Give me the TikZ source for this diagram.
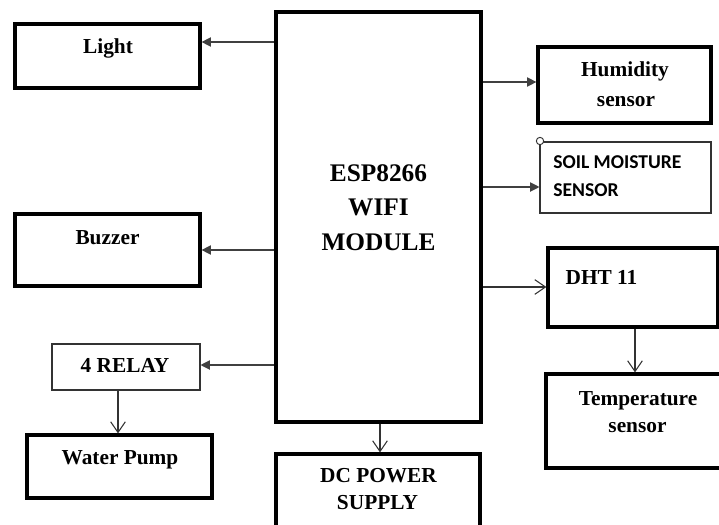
\documentclass[tikz,border=0pt]{standalone}
\usepackage{fontspec}
\setmainfont{Liberation Serif}
\newfontfamily\calib{Carlito}
\usetikzlibrary{arrows.meta,fit}
\begin{document}
\begin{tikzpicture}[x=0.75pt,y=-0.75pt,
  thickbox/.style={draw=black,line width=2.4pt,inner sep=0pt},
  thinbox/.style={draw=black!80,line width=0.8pt,inner sep=0pt},
  lbl/.style={anchor=base,inner sep=0pt,font=\fontsize{16}{18}\selectfont\bfseries},
  biglbl/.style={anchor=base,inner sep=0pt,font=\fontsize{19}{22}\selectfont\bfseries},
  soillbl/.style={anchor=base west,inner sep=0pt,font=\calib\fontsize{14.7}{17}\selectfont\bfseries},
  farr/.style={draw=black!75,line width=0.8pt,-{Triangle[length=7pt,width=7pt]}},
  oarr/.style={draw=black!80,line width=0.8pt,-{Straight Barb[length=8pt,width=11pt]}}]
\useasboundingbox (0,0) rectangle (719,525);
% boxes
\node[thickbox,fit={(276,12)(481,422)}] (esp) {};
\node[thickbox,fit={(15,24)(200,88)}] (light) {};
\node[thickbox,fit={(15,214)(200,286)}] (buzzer) {};
\node[thinbox,fit={(52,344)(200,390)}] (relay) {};
\node[thickbox,fit={(27,435)(212,498)}] (pump) {};
\node[thickbox,fit={(276,454)(480,535)}] (dc) {};
\node[thickbox,fit={(538,47)(711,123)}] (hum) {};
\node[thinbox,fit={(540,142)(711,213)}] (soil) {};
\node[draw=black!80,line width=0.7pt,circle,inner sep=0pt,minimum size=5.5pt,fill=white] (dot) at (540,141) {};
\node[thickbox,fit={(548,248)(718,327)}] (dht) {};
\node[thickbox,fit={(546,374)(725,468)}] (temp) {};
% texts
\node[biglbl] (t1) at (378.5,181.5) {ESP8266};
\node[biglbl] (t2) at (378.5,215.5) {WIFI};
\node[biglbl] (t3) at (378.5,250) {MODULE};
\node[lbl] (tl) at (108,53) {Light};
\node[lbl] (tb) at (107.5,244) {Buzzer};
\node[lbl] (tr) at (125,372.5) {4 RELAY};
\node[lbl] (tp) at (120,464) {Water Pump};
\node[lbl] (td1) at (378.5,482) {DC POWER};
\node[lbl] (td2) at (377.5,509) {SUPPLY};
\node[lbl] (th1) at (625,76.5) {Humidity};
\node[lbl] (th2) at (626,106) {sensor};
\node[soillbl] (ts1) at (553,168) {SOIL MOISTURE};
\node[soillbl] (ts2) at (553,196.5) {SENSOR};
\node[lbl] (tdht) at (601.5,284) {DHT 11};
\node[lbl] (tt1) at (638,405) {Temperature};
\node[lbl] (tt2) at (637.5,432.5) {sensor};
% connectors
\draw[farr] (esp.west |- 0,42) -- (light.east |- 0,42);
\draw[farr] (esp.west |- 0,250) -- (buzzer.east |- 0,250);
\draw[farr] (esp.west |- 0,365) -- (relay.east |- 0,365);
\draw[farr] (esp.east |- 0,82) -- (hum.west |- 0,82);
\draw[farr] (esp.east |- 0,187) -- (soil.west |- 0,187);
\draw[oarr] (esp.east |- 0,287) -- (dht.west |- 0,287);
\draw[oarr] (relay.south -| 118,0) -- (pump.north -| 118,0);
\draw[oarr] (esp.south -| 380,0) -- (dc.north -| 380,0);
\draw[oarr] (dht.south -| 635,0) -- (temp.north -| 635,0);
\end{tikzpicture}
\end{document}
